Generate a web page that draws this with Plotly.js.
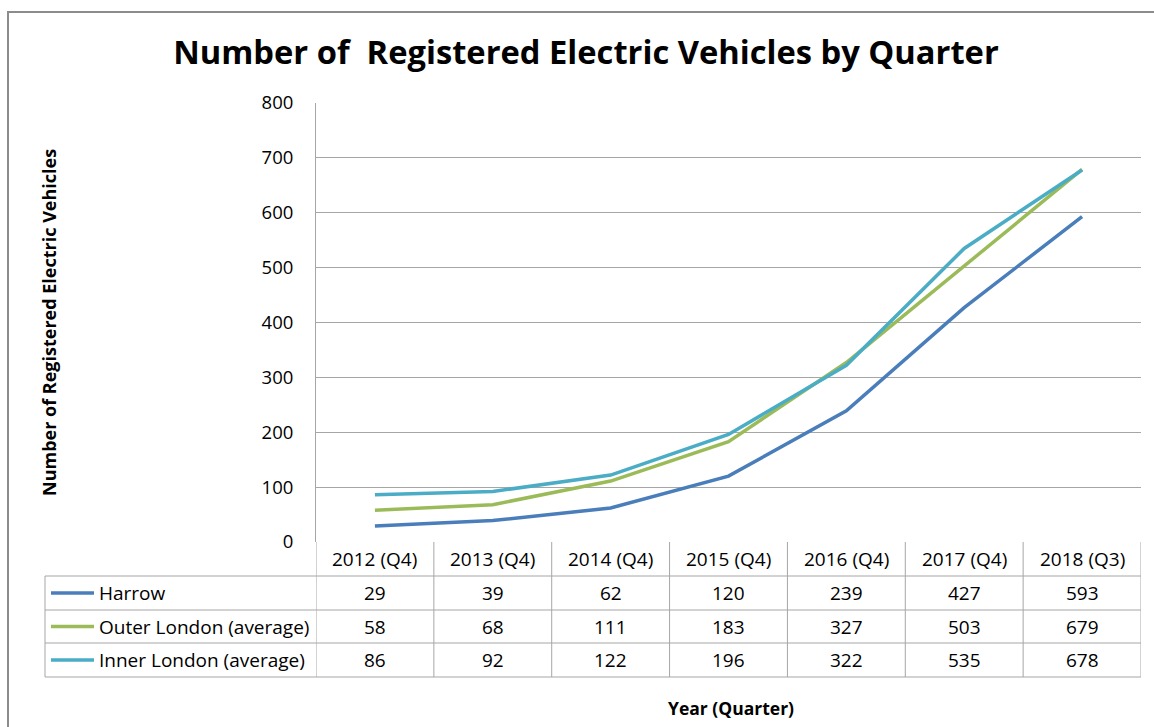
<!DOCTYPE html>
<html>
<head>
<meta charset="utf-8">
<script src="https://cdn.plot.ly/plotly-3.0.1.min.js"></script>
<style>
  body { margin: 0; background: #fff; }
  #chart { width: 1154px; height: 727px; }
</style>
</head>
<body>
<div id="chart"></div>
<script>
var quarters = ["2012 (Q4)", "2013 (Q4)", "2014 (Q4)", "2015 (Q4)", "2016 (Q4)", "2017 (Q4)", "2018 (Q3)"];
var seriesNames = ["Harrow", "Outer London (average)", "Inner London (average)"];
var harrow = [29, 39, 62, 120, 239, 427, 593];
var outerLondon = [58, 68, 111, 183, 327, 503, 679];
var innerLondon = [86, 92, 122, 196, 322, 535, 678];
var colors = ["#4a7ebb", "#9bbb59", "#4bacc6"];

var allSeries = [harrow, outerLondon, innerLondon];
var font = "Open Sans, Noto Sans, sans-serif";
var gridColor = "#a6a6a6";

// pixel helpers for the table under the plot (plot area: x 316..1141, y 103..542)
var plotL = 316, plotW = 825, plotB = 542, plotH = 439;
function px(x) { return (x - plotL) / plotW; }
function py(y) { return (plotB - y) / plotH; }

var traces = allSeries.map(function (vals, i) {
  return {
    x: quarters,
    y: vals,
    name: seriesNames[i],
    type: "scatter",
    mode: "lines",
    line: { color: colors[i], width: 3.5 },
    hoverinfo: "x+y+name"
  };
});

var shapes = [];
var annotations = [];
var rowEdges = [542, 576, 610, 643, 677];

function label(xref, x, y, text, size, extra) {
  var a = { xref: xref, yref: "paper", x: x, y: y, text: text, showarrow: false,
    xanchor: "center", yanchor: "middle",
    font: { family: font, size: size, color: "#000" } };
  for (var k in extra) a[k] = extra[k];
  return a;
}

// horizontal table lines
for (var r = 1; r < rowEdges.length; r++) {
  shapes.push({ type: "line", xref: "paper", yref: "paper",
    x0: px(45), x1: 1, y0: py(rowEdges[r]), y1: py(rowEdges[r]),
    line: { color: gridColor, width: 1 } });
}
// vertical table lines at category boundaries
for (var c = 0; c <= quarters.length; c++) {
  shapes.push({ type: "line", xref: "x", yref: "paper",
    x0: c - 0.5, x1: c - 0.5, y0: py(542), y1: py(677),
    line: { color: gridColor, width: 1 } });
}
shapes.push({ type: "line", xref: "paper", yref: "paper",
  x0: px(45), x1: px(45), y0: py(576), y1: py(677),
  line: { color: gridColor, width: 1 } });

// header row: categories
quarters.forEach(function (q, i) {
  annotations.push(label("x", i, py(559), q, 19));
});

// data rows
allSeries.forEach(function (vals, s) {
  var yc = py((rowEdges[s + 1] + rowEdges[s + 2]) / 2);
  shapes.push({ type: "line", xref: "paper", yref: "paper",
    x0: px(51), x1: px(94), y0: yc, y1: yc,
    line: { color: colors[s], width: 3.5 } });
  annotations.push(label("paper", px(97), yc, seriesNames[s], 19, { xanchor: "left" }));
  vals.forEach(function (v, i) {
    annotations.push(label("x", i, yc, String(v), 19));
  });
});

// outer chart frame
shapes.push({ type: "rect", xref: "paper", yref: "paper",
  x0: px(8), x1: px(1170), y0: py(12), y1: py(760),
  line: { color: "#8c8c8c", width: 2 } });

// axis titles
annotations.push(label("paper", px(49), py(323), "<b>Number of Registered Electric Vehicles</b>", 18,
  { textangle: -90 }));
annotations.push(label("paper", px(731), py(708), "<b>Year (Quarter)</b>", 17.5));

var layout = {
  width: 1154,
  height: 727,
  margin: { l: 316, r: 13, t: 103, b: 185 },
  paper_bgcolor: "#fff",
  plot_bgcolor: "#fff",
  showlegend: false,
  title: {
    text: "<b>Number of  Registered Electric Vehicles by Quarter</b>",
    font: { family: font, size: 32.7, color: "#000" },
    x: 586 / 1154, xanchor: "center",
    y: 1 - 53 / 727, yanchor: "middle"
  },
  xaxis: {
    type: "category",
    range: [-0.5, 6.5],
    showticklabels: false,
    showgrid: false,
    zeroline: false,
    ticks: ""
  },
  yaxis: {
    range: [0, 800],
    dtick: 100,
    showgrid: true,
    gridcolor: gridColor,
    gridwidth: 1,
    zeroline: false,
    showline: true,
    linecolor: gridColor,
    ticks: "",
    ticklabelstandoff: 18,
    tickfont: { family: font, size: 18.5, color: "#000" }
  },
  shapes: shapes,
  annotations: annotations
};

Plotly.newPlot("chart", traces, layout, { displayModeBar: false });
</script>
</body>
</html>
